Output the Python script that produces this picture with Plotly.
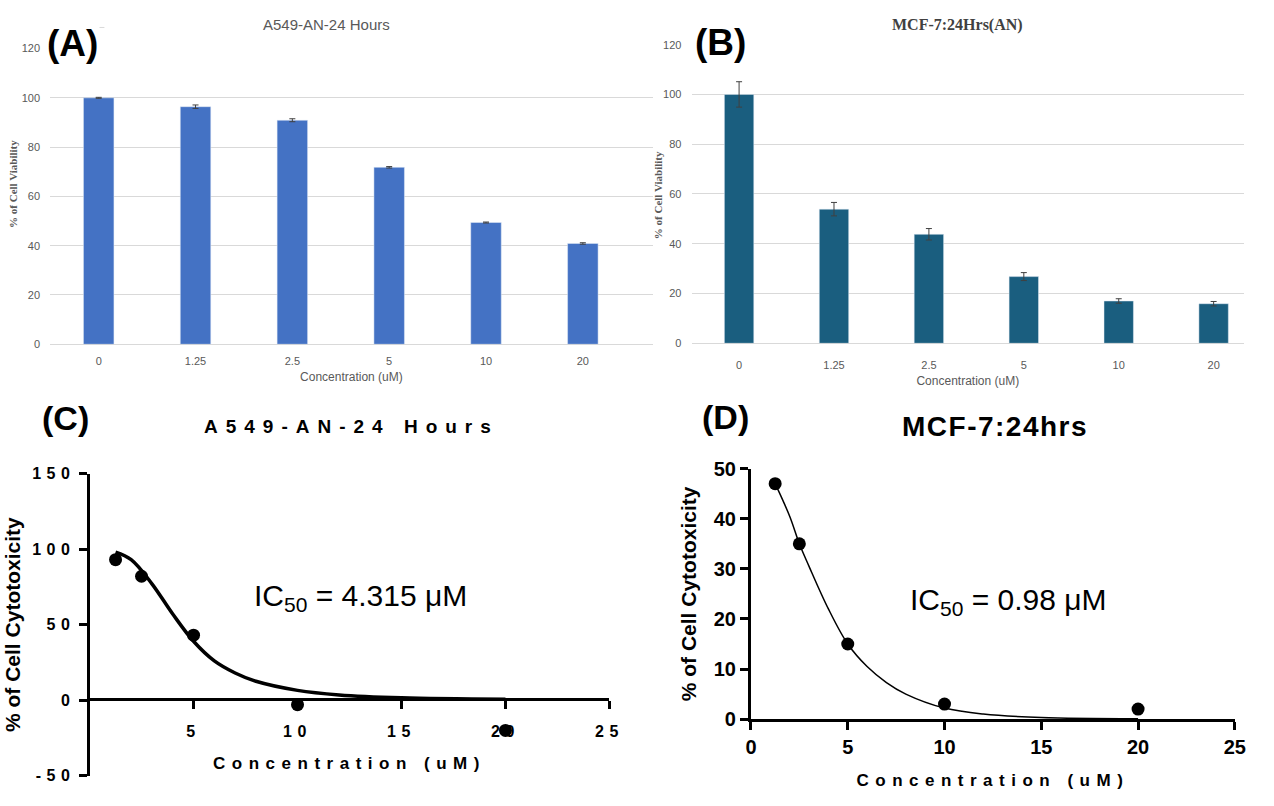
import plotly.graph_objects as go

# The page adds an 8 px body margin, so the figure is sized to fill the window exactly.
PAGE_W, PAGE_H, M = 1274, 806, 8
W, H = PAGE_W - 2 * M, PAGE_H - 2 * M
def px(x): return (x - M) / W
def py(y): return 1 - (y - M) / H

# ---------------- data ----------------
conc_labels = ["0", "1.25", "2.5", "5", "10", "20"]
a549_viability = [100, 96.4, 90.9, 71.8, 49.4, 40.9]
a549_err = [0.2, 0.7, 0.6, 0.3, 0.2, 0.3]
mcf7_viability = [100, 53.9, 43.8, 26.8, 17.0, 15.9]
mcf7_err = [5.1, 2.7, 2.3, 1.6, 0.9, 0.9]

conc_points = [1.25, 2.5, 5, 10, 20]
a549_cytotox = [93, 82, 43, -3, -20]
mcf7_cytotox = [47, 35, 15, 3, 2]

a549_fit_x = [1.25, 2, 3, 4, 5, 6, 7, 8, 10, 12, 15, 20]
a549_fit_y = [98, 93, 77, 57, 39, 26, 18, 12.5, 6.5, 3.5, 1.6, 0.6]
mcf7_fit_x = [1.25, 2, 2.5, 3, 4, 5, 6, 7, 8, 10, 12, 15, 20]
mcf7_fit_y = [47, 40.5, 35, 30.5, 22, 15, 10.5, 7.3, 5, 2.2, 1.0, 0.3, 0.05]

c_xticks = [5, 10, 15, 20, 25]
c_yticks = [-50, 0, 50, 100, 150]
d_xticks = [0, 5, 10, 15, 20, 25]
d_yticks = [0, 10, 20, 30, 40, 50]

SANS = "Liberation Sans, Arial, sans-serif"
SERIF = "Liberation Serif, Times New Roman, serif"
GREY = "#595959"

def spaced(t, sp):
    return f'<span style="letter-spacing:{sp}px">{t}</span>'

fig = go.Figure()

# (A) bars
fig.add_trace(go.Bar(
    x=conc_labels, y=a549_viability, width=0.315, marker_color="#4472C4",
    error_y=dict(type="data", array=a549_err, color="#404040", thickness=1, width=3),
    xaxis="x", yaxis="y", showlegend=False))
# (B) bars
fig.add_trace(go.Bar(
    x=conc_labels, y=mcf7_viability, width=0.31, marker_color="#1a5e7f",
    error_y=dict(type="data", array=mcf7_err, color="#404040", thickness=1, width=3),
    xaxis="x2", yaxis="y2", showlegend=False))
# (C) fit + points
fig.add_trace(go.Scatter(
    x=a549_fit_x, y=a549_fit_y, mode="lines",
    line=dict(color="black", width=3.5, shape="spline", smoothing=1.0),
    xaxis="x3", yaxis="y3", showlegend=False))
fig.add_trace(go.Scatter(
    x=conc_points, y=a549_cytotox, mode="markers", marker=dict(color="black", size=13),
    xaxis="x3", yaxis="y3", showlegend=False, cliponaxis=False))
# (D) fit + points
fig.add_trace(go.Scatter(
    x=mcf7_fit_x, y=mcf7_fit_y, mode="lines",
    line=dict(color="black", width=1.5, shape="spline", smoothing=1.0),
    xaxis="x4", yaxis="y4", showlegend=False))
fig.add_trace(go.Scatter(
    x=conc_points, y=mcf7_cytotox, mode="markers", marker=dict(color="black", size=13),
    xaxis="x4", yaxis="y4", showlegend=False, cliponaxis=False))

bar_tickfont = dict(family=SANS, size=11, color=GREY)
bar_y_common = dict(range=[0, 120], dtick=20, showgrid=True, gridcolor="#d9d9d9", gridwidth=1,
                    zeroline=True, zerolinecolor="#d9d9d9", zerolinewidth=1, showline=False,
                    ticks="outside", ticklen=7, tickcolor="rgba(0,0,0,0)", tickfont=bar_tickfont)

fig.update_layout(
    width=W, height=H, margin=dict(l=0, r=0, t=0, b=0),
    paper_bgcolor="white", plot_bgcolor="white",
    xaxis=dict(domain=[px(53), px(665)], anchor="y", type="category", range=[-0.5, 5.72],
               showgrid=False, showline=False, zeroline=False,
               ticks="outside", ticklen=7, tickcolor="rgba(0,0,0,0)", tickfont=bar_tickfont,
               title=dict(text="Concentration (uM)", font=dict(family=SANS, size=12, color=GREY), standoff=6)),
    yaxis=dict(domain=[py(351.7), py(46.7)], anchor="x", **bar_y_common),
    xaxis2=dict(domain=[px(704.7), 1.0], anchor="y2", type="category", range=[-0.5, 5.32],
                showgrid=False, showline=False, zeroline=False,
                ticks="outside", ticklen=12, tickcolor="rgba(0,0,0,0)", tickfont=bar_tickfont,
                title=dict(text="Concentration (uM)", font=dict(family=SANS, size=12, color=GREY), standoff=6)),
    yaxis2=dict(domain=[py(350.7), py(42.7)], anchor="x2", **bar_y_common),
    xaxis3=dict(domain=[px(92.9), px(621.2)], range=[0, 25], anchor="free", position=py(717.7),
                showline=True, linewidth=3, linecolor="black", showgrid=False, zeroline=False,
                ticks="outside", ticklen=8, tickwidth=3, tickcolor="black", ticklabelstandoff=9,
                tickvals=c_xticks, ticktext=[spaced(v, 5.5) for v in c_xticks],
                tickfont=dict(family=SANS, size=16, color="black", weight="bold"),
                title=dict(text=spaced("Concentration (uM)", 6.5),
                           font=dict(family=SANS, size=17, color="black", weight="bold"), standoff=17)),
    yaxis3=dict(domain=[py(796.7), py(485)], range=[-50, 150], anchor="x3",
                showline=True, linewidth=3, linecolor="black", showgrid=False, zeroline=False,
                ticks="outside", ticklen=8, tickwidth=3, tickcolor="black",
                tickvals=c_yticks, ticktext=[spaced(v, 5.5) for v in c_yticks],
                tickfont=dict(family=SANS, size=16, color="black", weight="bold"),
                title=dict(text="% of Cell Cytotoxicity",
                           font=dict(family=SANS, size=21, color="black", weight="bold"), standoff=6)),
    xaxis4=dict(domain=[px(765), px(1256.7)], range=[0, 25], anchor="y4",
                showline=True, linewidth=3, linecolor="black", showgrid=False, zeroline=False,
                ticks="outside", ticklen=8, tickwidth=3, tickcolor="black",
                tickvals=d_xticks,
                tickfont=dict(family=SANS, size=20, color="black", weight="bold"),
                title=dict(text=spaced("Concentration (uM)", 6.5),
                           font=dict(family=SANS, size=17, color="black", weight="bold"), standoff=20)),
    yaxis4=dict(domain=[py(738.3), py(480)], range=[0, 50], anchor="x4",
                showline=True, linewidth=3, linecolor="black", showgrid=False, zeroline=False,
                ticks="outside", ticklen=8, tickwidth=3, tickcolor="black",
                tickvals=d_yticks,
                tickfont=dict(family=SANS, size=20, color="black", weight="bold"),
                title=dict(text="% of Cell Cytotoxicity",
                           font=dict(family=SANS, size=21, color="black", weight="bold"), standoff=12)),
)

annotations = [
    dict(x=px(75.5), y=py(42), text="<b>(A)</b>", font=dict(family=SANS, size=37, color="black"), bgcolor="white"),
    dict(x=px(734.4), y=py(40), text="<b>(B)</b>", font=dict(family=SANS, size=37, color="black"), bgcolor="white"),
    dict(x=px(68.4), y=py(428), text="<b>(C)</b>", font=dict(family=SANS, size=34, color="black")),
    dict(x=px(739), y=py(427), text="<b>(D)</b>", font=dict(family=SANS, size=34, color="black")),
    dict(x=px(334), y=py(22), text="A549-AN-24 Hours", font=dict(family=SANS, size=15, color=GREY)),
    dict(x=px(975), y=py(22), text="<b>MCF-7:24Hrs(AN)</b>", font=dict(family=SERIF, size=16, color="#404040")),
    dict(x=px(15), y=py(186.5), text="<b>% of Cell Viability</b>", textangle=-90,
         font=dict(family=SERIF, size=11, color=GREY)),
    dict(x=px(670), y=py(197.5), text="<b>% of Cell Viability</b>", textangle=-90,
         font=dict(family=SERIF, size=11, color=GREY)),
    dict(x=px(359.5), y=py(437), text="<b>" + spaced("A549-AN-24 Hours", 8) + "</b>",
         font=dict(family=SANS, size=19, color="black")),
    dict(x=px(1013), y=py(437), text="<b>" + spaced("MCF-7:24hrs", 1.5) + "</b>",
         font=dict(family=SANS, size=28, color="black")),
    dict(x=px(368), y=py(613), text="IC<sub>50</sub> = 4.315 μM", font=dict(family=SANS, size=30, color="black")),
    dict(x=px(1027), y=py(617), text="IC<sub>50</sub> = 0.98 μM", font=dict(family=SANS, size=30, color="black")),
]
for a in annotations:
    a.update(xref="paper", yref="paper", showarrow=False, xanchor="center", yanchor="middle")
fig.update_layout(annotations=annotations)

fig.add_shape(type="line", xref="paper", yref="paper", x0=px(54), x1=px(108), y0=py(25), y1=py(25),
              line=dict(color="#d9d9d9", width=1))

fig.write_html("out.html")
